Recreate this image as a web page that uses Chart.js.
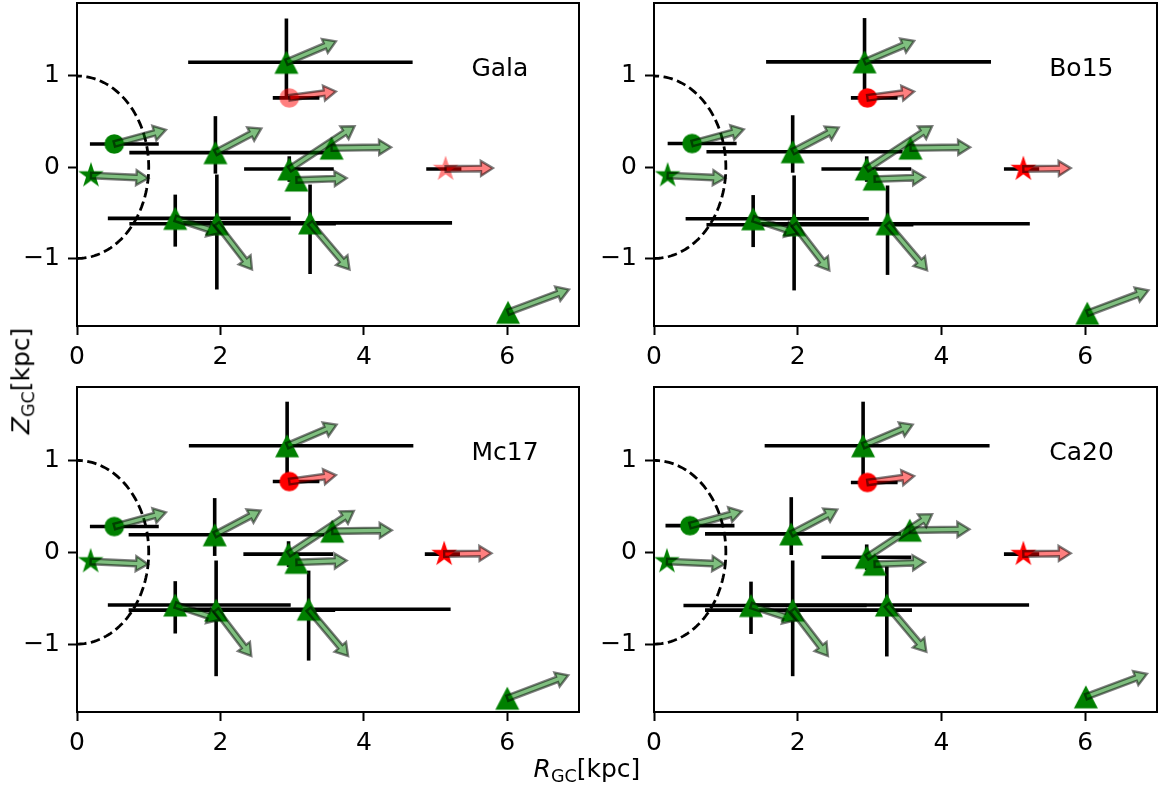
<!DOCTYPE html>
<html>
<head>
<meta charset="utf-8">
<script src="https://cdn.jsdelivr.net/npm/chart.js@4.4.1/dist/chart.umd.min.js"></script>
<style>
  body { margin: 0; background: #fff; width: 1159px; height: 789px; position: relative; overflow: hidden; font-family: "DejaVu Sans", sans-serif; }
  canvas { position: absolute; }
  .lab { position: absolute; font-size: 25px; color: #000; white-space: nowrap; line-height: 1; }
  .lab i { font-style: oblique; }
  .lab sub { font-size: 17.5px; vertical-align: -5px; line-height: 1; }
</style>
</head>
<body>
<canvas id="c0" width="584" height="380" style="left:0px;top:0px"></canvas>
<canvas id="c1" width="584" height="380" style="left:580px;top:0px"></canvas>
<canvas id="c2" width="584" height="409" style="left:0px;top:380px"></canvas>
<canvas id="c3" width="584" height="409" style="left:580px;top:380px"></canvas>
<div class="lab" id="ylab" style="left:23px;top:381px;transform:translate(-50%,-50%) rotate(-90deg)"><i>Z</i><sub>GC</sub>[kpc]</div>
<div class="lab" id="xlab" style="left:587px;top:771px;transform:translate(-50%,-50%)"><i>R</i><sub>GC</sub>[kpc]</div>
<script>
// données (kpc)
const panelNames = ['Gala', 'Bo15', 'Mc17', 'Ca20'];
const xTicks = [0, 2, 4, 6];
const yTicks = [-1, 0, 1];

// type de marqueur et couleur de chaque amas
const markerKind = ['tri', 'circ', 'circ', 'tri', 'tri', 'tri', 'tri', 'star', 'tri', 'tri', 'tri', 'tri', 'star'];
const markerColor = ['green', 'red', 'green', 'green', 'green', 'green', 'green', 'green', 'green', 'green', 'green', 'green', 'red'];

const R_Gala = [2.92, 2.96, 0.52, 1.93, 3.55, 2.96, 3.06, 0.195, 1.37, 1.95, 3.25, 6.01, 5.14];
const Z_Gala = [1.15, 0.76, 0.255, 0.16, 0.21, -0.02, -0.14, -0.09, -0.56, -0.62, -0.61, -1.59, -0.02];
const R_Bo15 = [2.93, 2.97, 0.53, 1.93, 3.57, 2.96, 3.07, 0.19, 1.38, 1.95, 3.25, 6.03, 5.14];
const Z_Bo15 = [1.155, 0.76, 0.26, 0.17, 0.21, -0.02, -0.13, -0.09, -0.565, -0.63, -0.62, -1.60, -0.02];
const R_Mc17 = [2.93, 2.96, 0.52, 1.92, 3.56, 2.95, 3.06, 0.19, 1.37, 1.94, 3.23, 6.00, 5.12];
const Z_Mc17 = [1.16, 0.77, 0.28, 0.19, 0.23, -0.02, -0.11, -0.10, -0.575, -0.63, -0.62, -1.59, -0.02];
const R_Ca20 = [2.91, 2.97, 0.50, 1.91, 3.56, 2.96, 3.07, 0.18, 1.35, 1.93, 3.24, 6.01, 5.14];
const Z_Ca20 = [1.16, 0.76, 0.29, 0.20, 0.24, -0.055, -0.13, -0.10, -0.58, -0.63, -0.575, -1.575, -0.02];

// barres d'erreur (asymétriques)
const rErrLo = [1.37, 0.23, 0.34, 1.20, 0, 0.63, 0, 0, 0.94, 1.22, 1.95, 0, 0.27];
const rErrHi = [1.76, 0.42, 0.62, 1.53, 0, 0.62, 0, 0, 1.61, 1.66, 1.98, 0, 0.22];
const zErrLo = [0.37, 0, 0, 0.23, 0, 0.14, 0, 0, 0.31, 0.72, 0.56, 0, 0];
const zErrHi = [0.48, 0, 0, 0.40, 0, 0.14, 0, 0, 0.26, 0.54, 0.42, 0, 0];

// vecteurs vitesse (flèches)
const vR = [0.69, 0.65, 0.72, 0.64, 0.83, 0.91, 0.70, 0.80, 0.62, 0.49, 0.55, 0.85, 0.66];
const vZ = [0.23, 0.07, 0.155, 0.265, 0.01, 0.47, 0.02, -0.03, -0.16, -0.50, -0.51, 0.25, 0.01];

const rValues = [R_Gala, R_Bo15, R_Mc17, R_Ca20];
const zValues = [Z_Gala, Z_Bo15, Z_Mc17, Z_Ca20];
const redAlpha = [0.5, 1, 1, 1];

// mise en page : canvas [gauche, haut] et zone de tracé [l, t, r, b] en px de page
const layout = [
    { pos: [0, 0], area: [77, 3, 579, 326] },
    { pos: [580, 0], area: [654, 3, 1157, 326] },
    { pos: [0, 380], area: [77, 387, 579, 712] },
    { pos: [580, 380], area: [654, 387, 1157, 712] }
];
const Y_AXIS_W = 70, X_AXIS_H = 50;

const COLORS = { green: '#008000', red: '#ff0000' };

function markerImage(kind, color, alpha) {
    const c = document.createElement('canvas');
    c.width = 30; c.height = 30;
    const g = c.getContext('2d');
    g.globalAlpha = alpha;
    g.fillStyle = color;
    const m = 15;
    g.beginPath();
    if (kind === 'tri') {
        g.moveTo(m, m - 11.5);
        g.lineTo(m + 12, m + 11.5);
        g.lineTo(m - 12, m + 11.5);
    } else if (kind === 'circ') {
        g.arc(m, m, 9.8, 0, Math.PI * 2);
    } else {
        for (let k = 0; k < 10; k++) {
            const r = k % 2 ? 13.5 * 0.382 : 13.5;
            const a = -Math.PI / 2 + k * Math.PI / 5;
            g.lineTo(m + r * Math.cos(a), m + r * Math.sin(a));
        }
    }
    g.closePath();
    g.fill();
    return c;
}

function decoPlugin(p) {
    const R = rValues[p], Z = zValues[p];
    return {
        id: 'deco' + p,
        beforeDatasetsDraw(chart) {
            const { ctx, chartArea: a, scales: { x, y } } = chart;
            ctx.save();
            ctx.beginPath();
            ctx.rect(a.left, a.top, a.right - a.left, a.bottom - a.top);
            ctx.clip();
            // demi-cercle de 1 kpc
            ctx.beginPath();
            for (let t = -90; t <= 90; t += 2) {
                const rad = t * Math.PI / 180;
                const px = x.getPixelForValue(Math.cos(rad));
                const py = y.getPixelForValue(Math.sin(rad));
                if (t === -90) ctx.moveTo(px, py); else ctx.lineTo(px, py);
            }
            ctx.setLineDash([9.5, 4.5]);
            ctx.lineWidth = 2.8;
            ctx.strokeStyle = '#000';
            ctx.stroke();
            ctx.setLineDash([]);
            // barres d'erreur
            ctx.lineWidth = 3.6;
            ctx.lineCap = 'butt';
            for (let i = 0; i < R.length; i++) {
                const py = y.getPixelForValue(Z[i]);
                const px = x.getPixelForValue(R[i]);
                if (rErrLo[i] || rErrHi[i]) {
                    ctx.beginPath();
                    ctx.moveTo(x.getPixelForValue(R[i] - rErrLo[i]), py);
                    ctx.lineTo(x.getPixelForValue(R[i] + rErrHi[i]), py);
                    ctx.stroke();
                }
                if (zErrLo[i] || zErrHi[i]) {
                    ctx.beginPath();
                    ctx.moveTo(px, y.getPixelForValue(Z[i] - zErrLo[i]));
                    ctx.lineTo(px, y.getPixelForValue(Z[i] + zErrHi[i]));
                    ctx.stroke();
                }
            }
            ctx.restore();
        },
        afterDatasetsDraw(chart) {
            const { ctx, chartArea: a, scales: { x, y } } = chart;
            ctx.save();
            ctx.beginPath();
            ctx.rect(a.left, a.top, a.right - a.left, a.bottom - a.top);
            ctx.clip();
            const headLen = 12, headW = 7.5, shaftW = 2.8;
            for (let i = 0; i < R.length; i++) {
                const x0 = x.getPixelForValue(R[i]), y0 = y.getPixelForValue(Z[i]);
                const x1 = x.getPixelForValue(R[i] + vR[i]), y1 = y.getPixelForValue(Z[i] + vZ[i]);
                const L = Math.hypot(x1 - x0, y1 - y0);
                const ux = (x1 - x0) / L, uy = (y1 - y0) / L;
                const nx = -uy, ny = ux;
                const bx = x1 - ux * headLen, by = y1 - uy * headLen;
                ctx.beginPath();
                ctx.moveTo(x0 + nx * shaftW, y0 + ny * shaftW);
                ctx.lineTo(bx + nx * shaftW, by + ny * shaftW);
                ctx.lineTo(bx + nx * headW, by + ny * headW);
                ctx.lineTo(x1, y1);
                ctx.lineTo(bx - nx * headW, by - ny * headW);
                ctx.lineTo(bx - nx * shaftW, by - ny * shaftW);
                ctx.lineTo(x0 - nx * shaftW, y0 - ny * shaftW);
                ctx.closePath();
                ctx.globalAlpha = 0.5;
                ctx.fillStyle = COLORS[markerColor[i]];
                ctx.fill();
                ctx.lineWidth = 2.4;
                ctx.lineJoin = 'miter';
                ctx.strokeStyle = '#000';
                ctx.stroke();
                ctx.globalAlpha = 1;
            }
            ctx.restore();
        },
        afterDraw(chart) {
            const { ctx, chartArea: a, scales: { x, y } } = chart;
            ctx.save();
            ctx.lineWidth = 2;
            ctx.strokeStyle = '#000';
            ctx.strokeRect(a.left, a.top, a.right - a.left, a.bottom - a.top);
            ctx.fillStyle = '#000';
            ctx.font = '25px "DejaVu Sans"';
            ctx.textAlign = 'left';
            ctx.textBaseline = 'alphabetic';
            ctx.fillText(panelNames[p], x.getPixelForValue(5.5), y.getPixelForValue(1.0));
            ctx.restore();
        }
    };
}

const minus = v => String(v).replace('-', '\u2212');

panelNames.forEach((name, p) => {
    const lay = layout[p];
    const cv = document.getElementById('c' + p);
    const [al, at, ar, ab] = lay.area;
    const [cl, ct] = lay.pos;
    const pad = {
        left: al - cl - Y_AXIS_W,
        top: at - ct,
        right: cl + cv.width - ar,
        bottom: ct + cv.height - ab - X_AXIS_H
    };
    const images = markerKind.map((k, i) =>
        markerImage(k, COLORS[markerColor[i]], markerColor[i] === 'red' ? redAlpha[p] : 1));

    new Chart(cv.getContext('2d'), {
        type: 'scatter',
        data: {
            datasets: [{
                data: rValues[p].map((r, i) => ({ x: r, y: zValues[p][i] })),
                pointStyle: images,
                pointRadius: 12,
                pointHoverRadius: 12
            }]
        },
        options: {
            responsive: false,
            animation: false,
            events: [],
            layout: { padding: pad, autoPadding: false },
            plugins: { legend: { display: false }, tooltip: { enabled: false } },
            scales: {
                x: {
                    type: 'linear',
                    min: 0,
                    max: 7,
                    afterBuildTicks: s => { s.ticks = xTicks.map(v => ({ value: v })); },
                    afterFit: s => { s.height = X_AXIS_H; s.paddingLeft = 0; s.paddingRight = 0; },
                    border: { display: false },
                    grid: { display: true, drawOnChartArea: false, drawTicks: true, tickLength: 9, tickWidth: 2, tickColor: '#000' },
                    ticks: { autoSkip: false, maxRotation: 0, padding: 7, color: '#000', font: { family: 'DejaVu Sans', size: 25 }, callback: minus }
                },
                y: {
                    type: 'linear',
                    min: -1.74,
                    max: 1.80,
                    afterBuildTicks: s => { s.ticks = yTicks.map(v => ({ value: v })); },
                    afterFit: s => { s.width = Y_AXIS_W; s.paddingTop = 0; s.paddingBottom = 0; },
                    border: { display: false },
                    grid: { display: true, drawOnChartArea: false, drawTicks: true, tickLength: 9, tickWidth: 2, tickColor: '#000' },
                    ticks: { autoSkip: false, padding: 8, color: '#000', font: { family: 'DejaVu Sans', size: 25 }, callback: minus }
                }
            }
        },
        plugins: [decoPlugin(p)]
    });
});
</script>
</body>
</html>
